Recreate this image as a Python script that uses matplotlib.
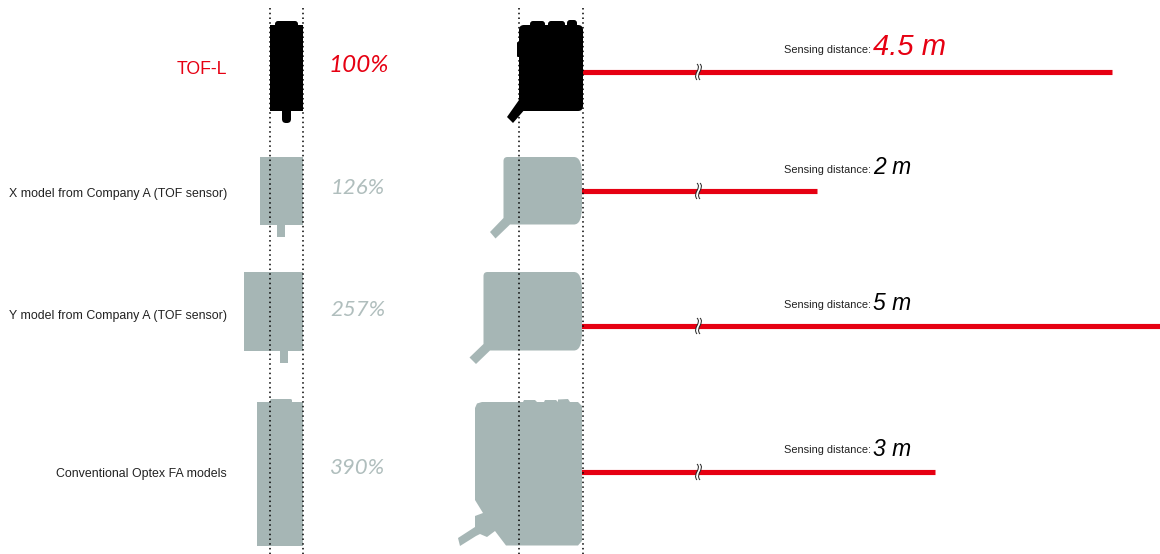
import matplotlib
matplotlib.use("Agg")
import matplotlib.pyplot as plt
from matplotlib.patches import Polygon, FancyBboxPatch, PathPatch
from matplotlib.path import Path

models = ["TOF-L", "X model from Company A (TOF sensor)",
          "Y model from Company A (TOF sensor)", "Conventional Optex FA models"]
sizes = ["100%", "126%", "257%", "390%"]
distances = [4.5, 2, 5, 3]
distance_labels = ["4.5 m", "2 m", "5 m", "3 m"]

RED = "#e60012"
GRAY = "#a6b6b5"
GRAY_TXT = "#b0bebd"
BLACK = "#000000"

W, H = 1160, 554
label_y = [70, 193.5, 315.5, 473.5]
pct_y = [65, 188, 310, 468]
pct_size = [17.5, 16, 16, 16]
bar_y = [72, 191, 326, 472]
dist_y = [47, 168, 304, 449]
sense_y = [50, 170, 305, 450]
dist_size = [21, 16.5, 16.5, 16.5]
PX_PER_M = 118
BAR_X0 = 581

fig = plt.figure(figsize=(W / 100, H / 100), dpi=100)
ax = fig.add_axes([0, 0, 1, 1])
ax.set_xlim(0, W)
ax.set_ylim(H, 0)
ax.axis("off")
ax.set_zorder(2)

# second axes in metres for the red bars, kept under the main one
ax2 = fig.add_axes([BAR_X0 / W, 0, (W - BAR_X0) / W, 1])
ax2.set_xlim(0, (W - BAR_X0) / PX_PER_M)
ax2.set_ylim(H, 0)
ax2.axis("off")
ax2.set_zorder(1)


def box(x0, y0, x1, y1, color, r=0.0):
    if r > 0:
        p = FancyBboxPatch((x0 + r, y0 + r), x1 - x0 - 2 * r, y1 - y0 - 2 * r,
                           boxstyle="round,pad=%f,rounding_size=%f" % (r, r),
                           fc=color, ec="none", zorder=2)
    else:
        p = plt.Rectangle((x0, y0), x1 - x0, y1 - y0, fc=color, ec="none", zorder=2)
    ax.add_patch(p)


def poly(pts, color):
    ax.add_patch(Polygon(pts, closed=True, fc=color, ec="none", zorder=2))


def side_body(x0, y0, x1, y1, color):
    # small radius on the left, long soft corners on the right
    verts = [(x0, y1), (x0, y0 + 4), (x0, y0), (x0 + 4, y0), (x1 - 8, y0), (x1, y0), (x1, y0 + 18),
             (x1, y1 - 18), (x1, y1), (x1 - 8, y1), (x0, y1)]
    codes = [Path.MOVETO, Path.LINETO, Path.CURVE3, Path.CURVE3, Path.LINETO, Path.CURVE3, Path.CURVE3,
             Path.LINETO, Path.CURVE3, Path.CURVE3, Path.CLOSEPOLY]
    ax.add_patch(PathPatch(Path(verts, codes), fc=color, ec="none", zorder=2))


# TOF-L front
box(270, 25, 303, 111, BLACK)
box(275, 21, 298, 30, BLACK, 3)
box(282, 105, 291, 123, BLACK, 4)
# TOF-L side
box(519, 25, 583, 111, BLACK, 5)
box(530, 21, 545, 30, BLACK, 3)
box(548, 21, 565, 30, BLACK, 3)
box(567, 20, 577, 30, BLACK, 3)
box(517, 42, 522, 57, BLACK, 1)
poly([(519, 100), (526, 108), (513, 123), (507, 117)], BLACK)

# X model
box(260, 157, 303, 224.5, GRAY)
box(277, 224, 285, 237, GRAY)
side_body(503.5, 157, 582, 224.5, GRAY)
poly([(503.5, 218), (510, 224.5), (495.5, 238.5), (490, 232)], GRAY)

# Y model
box(243.5, 272, 303, 350.5, GRAY)
box(280, 350, 288, 363, GRAY)
side_body(483.5, 272, 582, 350.5, GRAY)
poly([(483.5, 344), (490, 350.5), (476, 364), (469.5, 357.5)], GRAY)

# Conventional
box(257, 402, 303, 545.5, GRAY)
box(270, 399, 292, 404, GRAY, 1.5)
poly([(475, 408), (477, 403.5), (482, 402), (523, 402), (524, 400), (535, 400), (537, 402),
      (544, 402), (545, 400), (556, 400), (558, 402), (558, 399.5), (568, 399), (570, 402),
      (578, 402), (582, 406), (582, 541), (578, 545.5), (506, 545.5), (495, 531), (487, 537),
      (480, 534), (476, 536), (460, 546), (458, 538), (475, 527), (475, 516), (483, 513),
      (475, 500)], GRAY)

# dotted guides
for gx in [269.7, 302.7, 519.2, 582.7]:
    ax.plot([gx, gx], [8, H], color="#000000", lw=1.1, dashes=(1.0, 2.1), zorder=5)

for i, m in enumerate(models):
    size = 12.7 if i == 0 else 8.9
    col = RED if i == 0 else "#222222"
    ax.text(227, label_y[i], m, ha="right", va="center", color=col, fontsize=size,
            family="Liberation Sans")
    ax.text(359 if i == 0 else 358, pct_y[i], sizes[i], ha="center", va="center",
            color=RED if i == 0 else GRAY_TXT, fontsize=pct_size[i], style="italic",
            family="Lato")
    ax.text(871, sense_y[i], "Sensing distance:", ha="right", va="center",
            color="#222222", fontsize=7.9, family="Liberation Sans")
    ax.text(873, dist_y[i], distance_labels[i], ha="left", va="center",
            color=RED if i == 0 else BLACK, fontsize=dist_size[i], style="italic",
            family="Liberation Sans")

# red bars, in metres
ax2.hlines(bar_y, 0, distances, color=RED, lw=3.7, zorder=3)

# axis break marks
for y in bar_y:
    left = [(697, y - 8), (702, y - 3), (692, y + 2), (697, y + 8)]
    right = [(700, y - 8), (705, y - 3), (695, y + 2), (700, y + 8)]
    fill = left + [(700, y + 8), (695, y + 2), (705, y - 3), (700, y - 8), (697, y - 8)]
    fill_codes = [Path.MOVETO, Path.CURVE4, Path.CURVE4, Path.CURVE4,
                  Path.LINETO, Path.CURVE4, Path.CURVE4, Path.CURVE4, Path.CLOSEPOLY]
    ax.add_patch(PathPatch(Path(fill, fill_codes), fc="white", ec="none", zorder=6))
    codes = [Path.MOVETO, Path.CURVE4, Path.CURVE4, Path.CURVE4]
    for verts in [left, right]:
        ax.add_patch(PathPatch(Path(verts, codes), fc="none", ec="#222222", lw=0.7, zorder=7))

fig.savefig("out.png", dpi=100, facecolor="white")
